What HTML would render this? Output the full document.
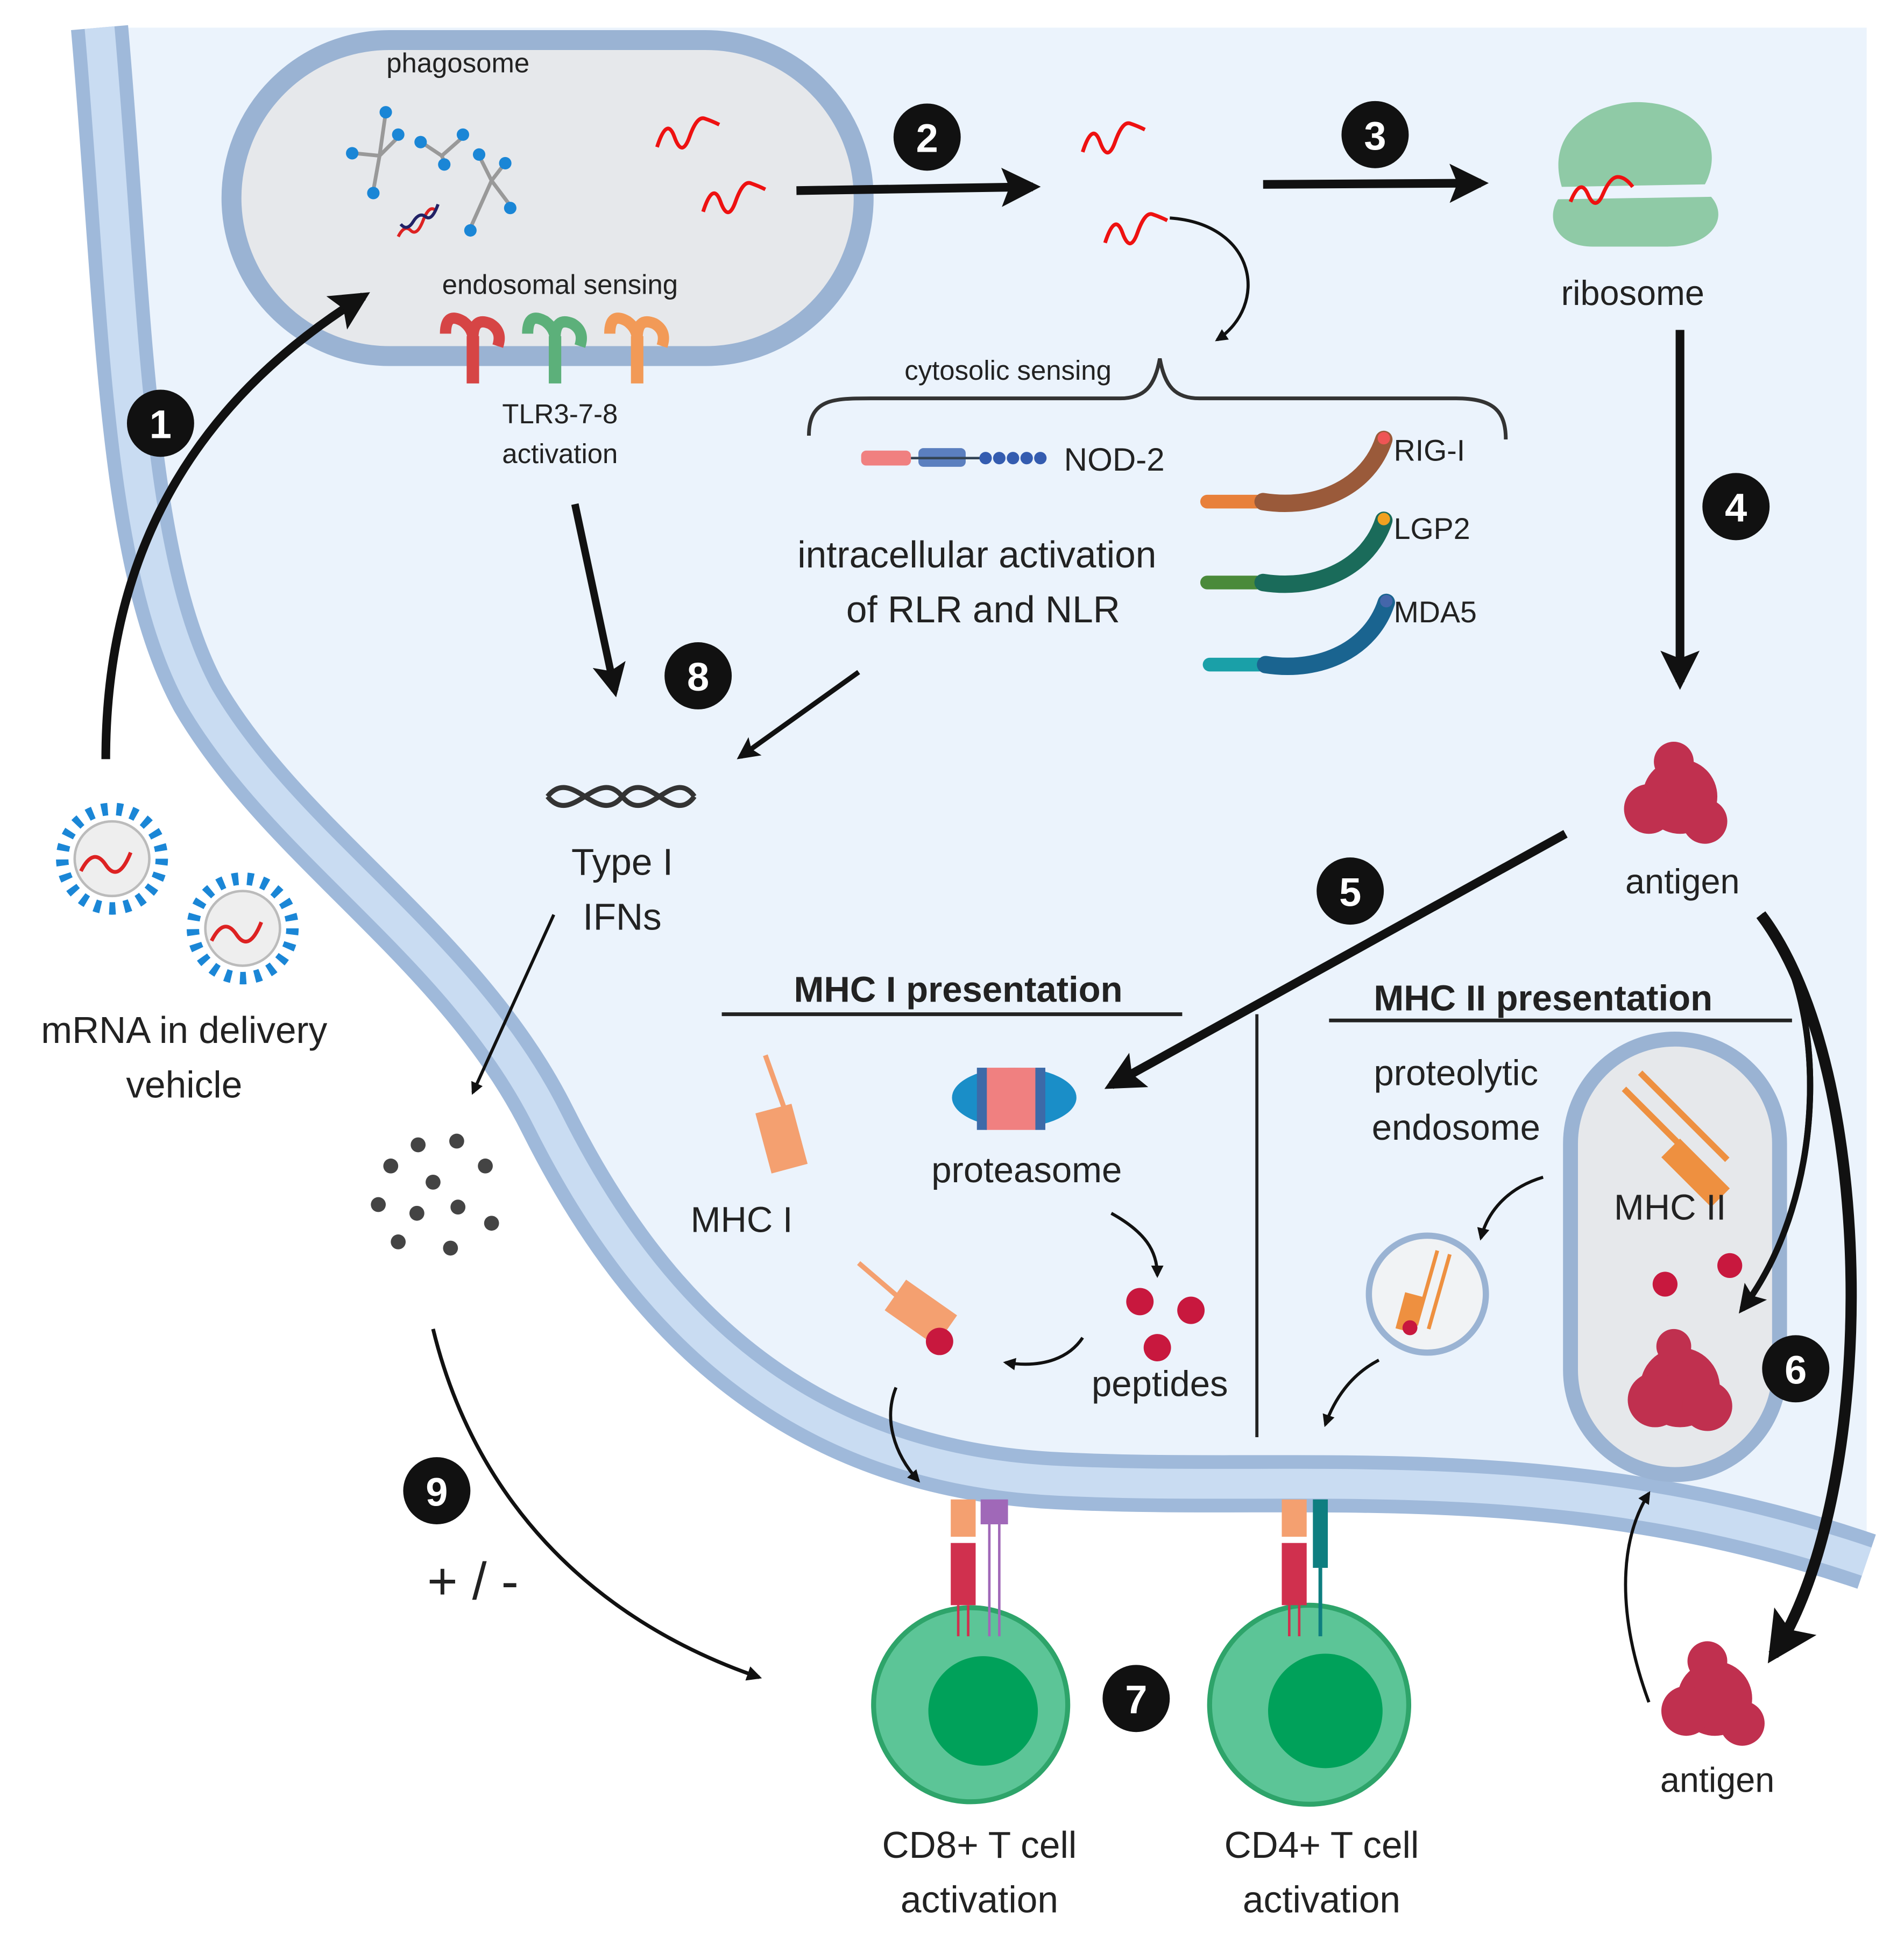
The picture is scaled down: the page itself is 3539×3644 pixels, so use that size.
<!DOCTYPE html>
<html><head><meta charset="utf-8"><style>
html,body{margin:0;padding:0;background:#fff}
svg{display:block}
text{font-family:"Liberation Sans",sans-serif;fill:#222}
</style></head><body>
<svg width="3539" height="3644" viewBox="0 0 1530 1575" xmlns="http://www.w3.org/2000/svg">
<defs>
<marker id="ah" viewBox="0 0 10 10" refX="8" refY="5" markerWidth="4" markerHeight="4" orient="auto"><path d="M0,0 L10,5 L0,10 z" fill="#111"/></marker>
<marker id="as" viewBox="0 0 10 10" refX="8" refY="5" markerWidth="4.5" markerHeight="4.5" orient="auto"><path d="M0,0 L10,5 L0,10 L2,5 z" fill="#111"/></marker>
</defs>
<rect width="1530" height="1575" fill="#fff"/>
<path d="M80 22 C100 250,100 450,160 560 C230 680,370 760,440 900 C520 1060,640 1180,850 1190 C1050 1200,1250 1170,1500 1255 L1500 22 Z" fill="#ebf3fc"/>
<path d="M80 22 C100 250,100 450,160 560 C230 680,370 760,440 900 C520 1060,640 1180,850 1190 C1050 1200,1250 1170,1500 1255" fill="none" stroke="#9fb9da" stroke-width="46"/>
<path d="M80 22 C100 250,100 450,160 560 C230 680,370 760,440 900 C520 1060,640 1180,850 1190 C1050 1200,1250 1170,1500 1255" fill="none" stroke="#c9dcf2" stroke-width="24"/>
<rect x="186" y="32" width="508" height="254" rx="127" fill="#e6e8eb" stroke="#9ab3d3" stroke-width="16"/>
<text x="368" y="58" font-size="22" text-anchor="middle">phagosome</text>
<text x="450" y="236" font-size="22" text-anchor="middle">endosomal sensing</text>
<g stroke="#999" stroke-width="3" fill="#1a86d6">
<path d="M310 90 L305 125 L285 123 M305 125 L300 153 M305 125 L320 110" fill="none"/>
<path d="M340 115 L355 125 L372 110 M355 125 L357 130" fill="none"/>
<path d="M385 125 L395 145 L378 183 M395 145 L410 165 M395 145 L405 132" fill="none"/>
<circle cx="310" cy="90" r="5" stroke="none"/><circle cx="283" cy="123" r="5" stroke="none"/><circle cx="300" cy="155" r="5" stroke="none"/><circle cx="320" cy="108" r="5" stroke="none"/>
<circle cx="338" cy="114" r="5" stroke="none"/><circle cx="372" cy="108" r="5" stroke="none"/><circle cx="357" cy="132" r="5" stroke="none"/>
<circle cx="385" cy="124" r="5" stroke="none"/><circle cx="410" cy="167" r="5" stroke="none"/><circle cx="378" cy="185" r="5" stroke="none"/><circle cx="406" cy="131" r="5" stroke="none"/>
</g>
<path d="M320 190 q5 -10 10 -5 t10 -8 t10 -8" stroke="#d22" stroke-width="2.5" fill="none"/>
<path d="M322 180 q5 6 10 -2 t10 -4 t10 -10" stroke="#226" stroke-width="2.5" fill="none"/>
<g stroke="#e11" stroke-width="3" fill="none">
<path d="M528 118 q8 -25 14 -8 t12 0 t12 -15 t12 5"/>
<path d="M565 170 q8 -25 14 -8 t12 0 t12 -15 t12 5"/>
<path d="M870 122 q8 -25 14 -8 t12 0 t12 -15 t12 5"/>
<path d="M888 195 q8 -25 14 -8 t12 0 t12 -15 t12 5"/>
</g>
<g>
<path d="M358 268 q0 -18 14 -10 q8 6 8 14 q0 -18 14 -12 q10 6 6 18" fill="none" stroke="#d64545" stroke-width="9"/>
<rect x="375" y="270" width="10" height="38" fill="#d64545"/>
<path d="M424 268 q0 -18 14 -10 q8 6 8 14 q0 -18 14 -12 q10 6 6 18" fill="none" stroke="#5cb07a" stroke-width="9"/>
<rect x="441" y="270" width="10" height="38" fill="#5cb07a"/>
<path d="M490 268 q0 -18 14 -10 q8 6 8 14 q0 -18 14 -12 q10 6 6 18" fill="none" stroke="#f29a57" stroke-width="9"/>
<rect x="507" y="270" width="10" height="38" fill="#f29a57"/>
</g>
<text x="450" y="340" font-size="22" text-anchor="middle">TLR3-7-8</text>
<text x="450" y="372" font-size="22" text-anchor="middle">activation</text>
<path d="M1255 150 C1240 100,1290 80,1320 82 C1370 85,1385 120,1370 148 Z" fill="#8fcaa6"/>
<path d="M1252 160 L1375 158 C1390 175,1375 198,1340 198 L1280 198 C1250 198,1242 175,1252 160 Z" fill="#8fcaa6"/>
<path d="M1262 162 q8 -20 14 -6 t12 0 t12 -14 t12 8" stroke="#e11" stroke-width="3" fill="none"/>
<text x="1312" y="245" font-size="28" text-anchor="middle">ribosome</text>
<g stroke="#111" fill="none">
<path d="M640 153 L830 150" stroke-width="7" marker-end="url(#as)"/>
<path d="M1015 148 L1190 147" stroke-width="7" marker-end="url(#as)"/>
<path d="M1350 265 L1350 548" stroke-width="7" marker-end="url(#as)"/>
<path d="M85 610 C85 440,160 320,292 238" stroke-width="7" marker-end="url(#as)"/>
<path d="M462 405 L494 555" stroke-width="6" marker-end="url(#as)"/>
<path d="M690 540 L595 608" stroke-width="4" marker-end="url(#as)"/>
<path d="M1258 670 L893 872" stroke-width="7" marker-end="url(#as)"/>
<path d="M1415 735 C1470 800,1470 960,1400 1052" stroke-width="5" marker-end="url(#as)"/>
<path d="M1415 735 C1510 860,1510 1200,1425 1330" stroke-width="9" marker-end="url(#as)"/>
<path d="M940 175 C1010 180,1020 245,978 273" stroke-width="2.5" marker-end="url(#ah)"/>
<path d="M445 735 L380 878" stroke-width="2.5" marker-end="url(#ah)"/>
<path d="M348 1068 C380 1200,470 1300,610 1348" stroke-width="3" marker-end="url(#ah)"/>
<path d="M893 975 C920 990,930 1005,930 1025" stroke-width="2.5" marker-end="url(#ah)"/>
<path d="M870 1075 C860 1090,840 1100,808 1095" stroke-width="2.5" marker-end="url(#ah)"/>
<path d="M720 1115 C710 1140,718 1168,738 1190" stroke-width="2.5" marker-end="url(#ah)"/>
<path d="M1240 946 C1210 955,1195 975,1190 995" stroke-width="2.5" marker-end="url(#ah)"/>
<path d="M1108 1093 C1085 1105,1072 1125,1065 1145" stroke-width="2.5" marker-end="url(#ah)"/>
<path d="M1325 1368 C1300 1300,1300 1240,1325 1200" stroke-width="2.5" marker-end="url(#ah)"/>
</g>
<text x="810" y="305" font-size="22" text-anchor="middle">cytosolic sensing</text>
<path d="M650 350 C650 320,670 320,700 320 L900 320 C920 320,928 310,932 288 C936 310,944 320,964 320 L1170 320 C1200 320,1210 330,1210 353" fill="none" stroke="#333" stroke-width="3"/>
<g>
<rect x="692" y="362" width="40" height="12" rx="4" fill="#f08080"/>
<rect x="738" y="360" width="38" height="15" rx="4" fill="#5b7fbf"/>
<line x1="732" y1="368" x2="790" y2="368" stroke="#345" stroke-width="2"/>
<g fill="#345cb0"><circle cx="792" cy="368" r="5"/><circle cx="803" cy="368" r="5"/><circle cx="814" cy="368" r="5"/><circle cx="825" cy="368" r="5"/><circle cx="836" cy="368" r="5"/></g>
</g>
<text x="855" y="378" font-size="26">NOD-2</text>
<g stroke-linecap="round" fill="none">
<path d="M970 403 L1010 403" stroke="#e8803a" stroke-width="11"/><path d="M1015 403 C1060 410,1100 390,1112 353" stroke="#9a5a3a" stroke-width="14"/>
<circle cx="1112" cy="352" r="5" fill="#e55" stroke="none"/>
<path d="M970 468 L1010 468" stroke="#4a8a3a" stroke-width="11"/><path d="M1015 468 C1060 475,1100 455,1112 418" stroke="#1a6b5a" stroke-width="14"/>
<circle cx="1112" cy="417" r="5" fill="#f0a020" stroke="none"/>
<path d="M972 534 L1012 534" stroke="#1aa0a8" stroke-width="11"/><path d="M1017 534 C1062 541,1102 521,1114 484" stroke="#1a6490" stroke-width="14"/>
<circle cx="1114" cy="483" r="5" fill="#4466aa" stroke="none"/>
</g>
<text x="1120" y="370" font-size="24">RIG-I</text>
<text x="1120" y="433" font-size="24">LGP2</text>
<text x="1120" y="500" font-size="24">MDA5</text>
<text x="785" y="456" font-size="30" text-anchor="middle">intracellular activation</text>
<text x="790" y="500" font-size="30" text-anchor="middle">of RLR and NLR</text>
<path d="M440 640 c20 -25 40 25 60 0 c20 -25 40 25 58 0 M440 640 c20 25 40 -25 60 0 c20 25 40 -25 58 0" stroke="#333" stroke-width="4" fill="none"/>
<text x="500" y="703" font-size="30" text-anchor="middle">Type I</text>
<text x="500" y="747" font-size="30" text-anchor="middle">IFNs</text>
<g fill="#444"><circle cx="336" cy="920" r="6"/><circle cx="367" cy="917" r="6"/><circle cx="314" cy="937" r="6"/><circle cx="390" cy="937" r="6"/><circle cx="348" cy="950" r="6"/><circle cx="304" cy="968" r="6"/><circle cx="335" cy="975" r="6"/><circle cx="368" cy="970" r="6"/><circle cx="395" cy="983" r="6"/><circle cx="320" cy="998" r="6"/><circle cx="362" cy="1003" r="6"/></g>
<text x="380" y="1285" font-size="42" text-anchor="middle">+ / -</text>
<g>
<circle cx="90" cy="690" r="40" fill="none" stroke="#1a86d6" stroke-width="10" stroke-dasharray="5 7"/>
<circle cx="90" cy="690" r="30" fill="#eee" stroke="#bbb" stroke-width="2"/>
<path d="M65 700 q10 -20 20 -5 t20 -10" stroke="#d22" stroke-width="3" fill="none"/>
<circle cx="195" cy="746" r="40" fill="none" stroke="#1a86d6" stroke-width="10" stroke-dasharray="5 7"/>
<circle cx="195" cy="746" r="30" fill="#eee" stroke="#bbb" stroke-width="2"/>
<path d="M170 756 q10 -20 20 -5 t20 -10" stroke="#d22" stroke-width="3" fill="none"/>
</g>
<text x="148" y="838" font-size="30" text-anchor="middle">mRNA in delivery</text>
<text x="148" y="882" font-size="30" text-anchor="middle">vehicle</text>
<g fill="#c0304f"><circle cx="1350" cy="640" r="30"/><circle cx="1325" cy="650" r="20"/><circle cx="1370" cy="660" r="18"/><circle cx="1345" cy="612" r="16"/></g>
<text x="1352" y="718" font-size="28" text-anchor="middle">antigen</text>
<text x="770" y="805" font-size="29" font-weight="bold" text-anchor="middle">MHC I presentation</text>
<line x1="580" y1="815" x2="950" y2="815" stroke="#222" stroke-width="3"/>
<line x1="1010" y1="815" x2="1010" y2="1155" stroke="#222" stroke-width="2.5"/>
<text x="1240" y="812" font-size="29" font-weight="bold" text-anchor="middle">MHC II presentation</text>
<line x1="1068" y1="820" x2="1440" y2="820" stroke="#222" stroke-width="3"/>
<line x1="615" y1="848" x2="630" y2="890" stroke="#f4a070" stroke-width="4"/>
<rect x="613" y="890" width="30" height="50" fill="#f4a070" transform="rotate(-15 628 915)"/>
<text x="596" y="990" font-size="29" text-anchor="middle">MHC I</text>
<g>
<ellipse cx="815" cy="882" rx="50" ry="24" fill="#1a8ec8"/>
<rect x="792" y="858" width="40" height="50" fill="#f08080"/>
<rect x="785" y="858" width="8" height="50" fill="#3d6aa8"/><rect x="832" y="858" width="8" height="50" fill="#3d6aa8"/>
</g>
<text x="825" y="950" font-size="29" text-anchor="middle">proteasome</text>
<g fill="#c8183e"><circle cx="916" cy="1046" r="11"/><circle cx="957" cy="1053" r="11"/><circle cx="930" cy="1083" r="11"/></g>
<text x="932" y="1122" font-size="29" text-anchor="middle">peptides</text>
<line x1="690" y1="1015" x2="725" y2="1045" stroke="#f4a070" stroke-width="4"/>
<rect x="715" y="1040" width="50" height="30" fill="#f4a070" transform="rotate(35 740 1055)"/>
<circle cx="755" cy="1078" r="11" fill="#c8183e"/>
<text x="1170" y="872" font-size="29" text-anchor="middle">proteolytic</text>
<text x="1170" y="916" font-size="29" text-anchor="middle">endosome</text>
<rect x="1262" y="835" width="168" height="350" rx="84" fill="#e6e8eb" stroke="#9ab3d3" stroke-width="12"/>
<g stroke="#ee9040" stroke-width="5"><line x1="1305" y1="875" x2="1375" y2="945"/><line x1="1318" y1="862" x2="1388" y2="932"/></g>
<path d="M1350 915 l40 40 l-15 15 l-40 -40 z" fill="#ee9040"/>
<text x="1342" y="980" font-size="29" text-anchor="middle">MHC II</text>
<g fill="#c8183e"><circle cx="1338" cy="1032" r="10"/><circle cx="1390" cy="1017" r="10"/></g>
<g fill="#c0304f"><circle cx="1350" cy="1115" r="32"/><circle cx="1330" cy="1125" r="22"/><circle cx="1372" cy="1130" r="20"/><circle cx="1345" cy="1082" r="14"/></g>
<path d="M1415 735 C1470 800,1470 960,1400 1052" stroke="#111" stroke-width="5" fill="none" marker-end="url(#as)"/>
<circle cx="1147" cy="1040" r="47" fill="#f1f3f5" stroke="#9ab3d3" stroke-width="5"/>
<g stroke="#ee9040" stroke-width="3"><line x1="1155" y1="1005" x2="1138" y2="1065"/><line x1="1165" y1="1008" x2="1148" y2="1068"/></g>
<rect x="1125" y="1040" width="16" height="30" fill="#ee9040" transform="rotate(15 1133 1055)"/>
<circle cx="1133" cy="1067" r="6" fill="#c8183e"/>
<g fill="#c0304f"><circle cx="1378" cy="1365" r="30"/><circle cx="1355" cy="1375" r="20"/><circle cx="1400" cy="1385" r="18"/><circle cx="1372" cy="1335" r="16"/></g>
<text x="1380" y="1440" font-size="28" text-anchor="middle">antigen</text>
<circle cx="780" cy="1370" r="78" fill="#5cc597" stroke="#2ea46a" stroke-width="4"/>
<circle cx="790" cy="1375" r="44" fill="#00a15a"/>
<circle cx="1052" cy="1370" r="80" fill="#5cc597" stroke="#2ea46a" stroke-width="4"/>
<circle cx="1065" cy="1375" r="46" fill="#00a15a"/>
<g>
<rect x="764" y="1205" width="20" height="30" fill="#f4a070"/><rect x="788" y="1205" width="22" height="20" fill="#a068b8"/>
<rect x="764" y="1240" width="20" height="50" fill="#d0304e"/>
<line x1="770" y1="1290" x2="770" y2="1315" stroke="#d0304e" stroke-width="2"/><line x1="778" y1="1290" x2="778" y2="1315" stroke="#d0304e" stroke-width="2"/>
<line x1="795" y1="1225" x2="795" y2="1315" stroke="#a068b8" stroke-width="2"/><line x1="803" y1="1225" x2="803" y2="1315" stroke="#a068b8" stroke-width="2"/>
<rect x="1030" y="1205" width="20" height="30" fill="#f4a070"/><rect x="1055" y="1205" width="12" height="55" fill="#0e7e80"/>
<rect x="1030" y="1240" width="20" height="50" fill="#d0304e"/>
<line x1="1036" y1="1290" x2="1036" y2="1315" stroke="#d0304e" stroke-width="2"/><line x1="1044" y1="1290" x2="1044" y2="1315" stroke="#d0304e" stroke-width="2"/>
<line x1="1061" y1="1260" x2="1061" y2="1315" stroke="#0e7e80" stroke-width="3"/>
</g>
<text x="787" y="1493" font-size="30" text-anchor="middle">CD8+ T cell</text>
<text x="787" y="1537" font-size="30" text-anchor="middle">activation</text>
<text x="1062" y="1493" font-size="30" text-anchor="middle">CD4+ T cell</text>
<text x="1062" y="1537" font-size="30" text-anchor="middle">activation</text>
<g font-size="32" font-weight="bold" text-anchor="middle">
<circle cx="129" cy="340" r="27" fill="#111"/><text x="129" y="352" style="fill:#fff">1</text>
<circle cx="745" cy="110" r="27" fill="#111"/><text x="745" y="122" style="fill:#fff">2</text>
<circle cx="1105" cy="108" r="27" fill="#111"/><text x="1105" y="120" style="fill:#fff">3</text>
<circle cx="1395" cy="407" r="27" fill="#111"/><text x="1395" y="419" style="fill:#fff">4</text>
<circle cx="1085" cy="716" r="27" fill="#111"/><text x="1085" y="728" style="fill:#fff">5</text>
<circle cx="1443" cy="1100" r="27" fill="#111"/><text x="1443" y="1112" style="fill:#fff">6</text>
<circle cx="913" cy="1365" r="27" fill="#111"/><text x="913" y="1377" style="fill:#fff">7</text>
<circle cx="561" cy="543" r="27" fill="#111"/><text x="561" y="555" style="fill:#fff">8</text>
<circle cx="351" cy="1198" r="27" fill="#111"/><text x="351" y="1210" style="fill:#fff">9</text>
</g>
</svg>
</body></html>
